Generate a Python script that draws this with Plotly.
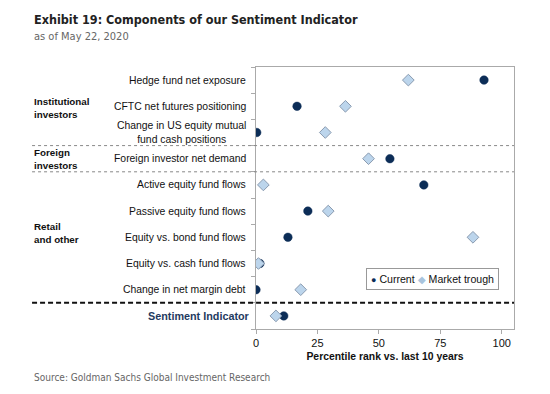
import plotly.graph_objects as go

categories = [
    "Hedge fund net exposure",
    "CFTC net futures positioning",
    "Change in US equity mutual<br>fund cash positions",
    "Foreign investor net demand",
    "Active equity fund flows",
    "Passive equity fund flows",
    "Equity vs. bond fund flows",
    "Equity vs. cash fund flows",
    "Change in net margin debt",
    "Sentiment Indicator",
]
current = [92.8, 16.7, 0.3, 54.5, 68.3, 21.1, 13.0, 1.6, 0.0, 11.3]
trough = [62.0, 36.4, 28.2, 45.8, 3.0, 29.4, 88.3, 1.0, 18.2, 8.1]
groups = [("Institutional<br>investors", 1.05), ("Foreign<br>investors", 3.0), ("Retail<br>and other", 5.85)]
x_ticks = [0, 25, 50, 75, 100]

NAVY = "#0c2d57"
LIGHT = "#bcd5ec"
pos = list(range(len(categories)))
LEFT = -0.868

fig = go.Figure()
fig.add_trace(go.Scatter(
    x=current, y=pos, mode="markers", name="Current",
    marker=dict(symbol="circle", size=8.5, color=NAVY, line=dict(width=0.5, color=NAVY)),
))
fig.add_trace(go.Scatter(
    x=trough, y=pos, mode="markers", name="Market trough",
    marker=dict(symbol="diamond", size=9, color=LIGHT, line=dict(width=1, color="#8a9bb0")),
))

# category labels
for i, c in enumerate(categories):
    last = i == len(categories) - 1
    fig.add_annotation(
        x=0, xref="paper", y=i, yref="y", xanchor="right", yanchor="middle",
        xshift=-8 if not last else -4, text=("<b>%s</b>" % c) if last else c, showarrow=False, align="center",
        font=dict(size=10.8 if last else 10.4, color="#1f3a60" if last else "#111111",
                  family="Liberation Sans, Arial"),
    )
for g, yv in groups:
    fig.add_annotation(
        x=LEFT, xref="paper", y=yv, yref="y", xanchor="left", yanchor="middle",
        text="<b>%s</b>" % g, showarrow=False, align="left",
        font=dict(size=9.8, color="#111111", family="Liberation Sans, Arial"),
    )

# separators
for yv in (2.5, 3.5):
    fig.add_shape(type="line", xref="paper", x0=LEFT, x1=1, yref="y", y0=yv, y1=yv,
                  line=dict(color="#888888", width=1, dash="dot"))
fig.add_shape(type="line", xref="paper", x0=LEFT, x1=1, yref="y", y0=8.5, y1=8.5,
              line=dict(color="#111111", width=2, dash="5px,3px"))

# legend box
fig.add_annotation(
    x=0.942, xref="paper", y=0.189, yref="paper", xanchor="right", yanchor="middle",
    text=("<span style='color:%s;font-size:9px'>●</span> Current "
          "<span style='color:%s;font-size:10px'>◆</span> Market trough") % (NAVY, "#a9c4dd"),
    showarrow=False, bordercolor="#999999", borderwidth=1, borderpad=4, bgcolor="white",
    font=dict(size=10.6, color="#111111", family="Liberation Sans, Arial"),
)

fig.update_layout(
    width=550, height=394,
    margin=dict(l=248, r=44, t=59, b=73),
    paper_bgcolor="white", plot_bgcolor="white",
    font=dict(family="Liberation Sans, Arial", size=11, color="#111111"),
    showlegend=False,
    xaxis=dict(range=[0, 105], tickvals=x_ticks, showgrid=False, zeroline=False,
               showline=True, linecolor="#aaaaaa", mirror=True, ticks="outside",
               ticklen=4, tickcolor="#aaaaaa", tickfont=dict(size=11),
               title=dict(text="<b>Percentile rank vs. last 10 years</b>", standoff=4,
                          font=dict(size=10.4))),
    yaxis=dict(range=[9.5, -0.5], tickvals=[p + 0.5 for p in [-1] + pos], ticktext=[""] * 11,
               showgrid=False, zeroline=False, showline=True, linecolor="#aaaaaa", mirror=True,
               ticks="outside", ticklen=4, tickcolor="#aaaaaa"),
)

TITLE_FONT = "DejaVu Sans Condensed, Liberation Sans Narrow, Arial Narrow, Liberation Sans"
fig.add_annotation(x=LEFT, xref="paper", y=1.183, yref="paper", xanchor="left", yanchor="middle",
                   text="<b>Exhibit 19: Components of our Sentiment Indicator</b>",
                   showarrow=False, font=dict(size=12.5, color="#222222", family=TITLE_FONT))
fig.add_annotation(x=LEFT, xref="paper", y=1.115, yref="paper", xanchor="left", yanchor="middle",
                   text="as of May 22, 2020", showarrow=False,
                   font=dict(size=11, color="#666666", family=TITLE_FONT))
fig.add_annotation(x=LEFT, xref="paper", y=-0.187, yref="paper", xanchor="left", yanchor="middle",
                   text="Source: Goldman Sachs Global Investment Research", showarrow=False,
                   font=dict(size=10, color="#666666", family=TITLE_FONT))

fig.write_html("out.html")
